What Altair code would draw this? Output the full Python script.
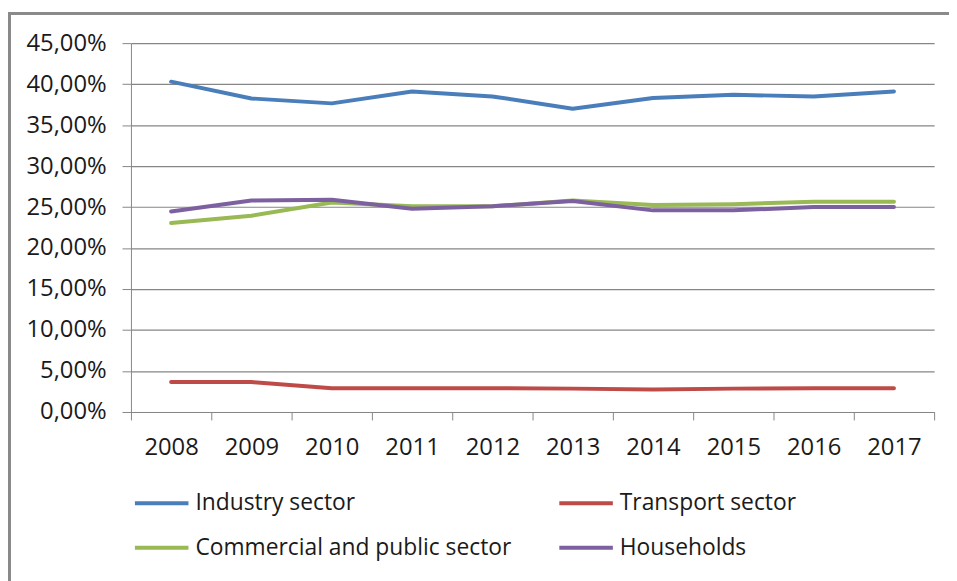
import altair as alt
import pandas as pd

years = [2008, 2009, 2010, 2011, 2012, 2013, 2014, 2015, 2016, 2017]
series_names = ["Industry sector", "Transport sector", "Commercial and public sector", "Households"]
industry = [0.403, 0.3825, 0.3765, 0.391, 0.385, 0.370, 0.383, 0.387, 0.385, 0.391]
transport = [0.0365, 0.0365, 0.029, 0.029, 0.029, 0.0285, 0.0275, 0.0285, 0.029, 0.029]
commercial = [0.2305, 0.2395, 0.2555, 0.251, 0.251, 0.258, 0.2525, 0.2535, 0.2565, 0.2565]
households = [0.2445, 0.258, 0.259, 0.248, 0.251, 0.2575, 0.246, 0.246, 0.250, 0.250]
colors = ["#4A7EBB", "#BE4B48", "#98B954", "#7D60A0"]
y_ticks = [0.0, 0.05, 0.10, 0.15, 0.20, 0.25, 0.30, 0.35, 0.40, 0.45]
x_ticks = [2007.5, 2008.5, 2009.5, 2010.5, 2011.5, 2012.5, 2013.5, 2014.5, 2015.5, 2016.5, 2017.5]

rows = []
for name, vals in zip(series_names, [industry, transport, commercial, households]):
    for yr, v in zip(years, vals):
        rows.append({"year": yr, "series": name, "value": v})
df = pd.DataFrame(rows)

FONT = "Open Sans"
GRID = "#868686"

lines = alt.Chart(df).mark_line(strokeWidth=4, strokeCap="round", strokeJoin="round").encode(
    x=alt.X("year:Q",
            scale=alt.Scale(domain=[2007.5, 2017.5], nice=False, zero=False),
            axis=alt.Axis(values=x_ticks, title=None, grid=False,
                          labelExpr="datum.value > 2017 ? '' : toString(datum.value + 0.5)",
                          labelOffset=40.5, labelPadding=16, tickSize=8,
                          tickColor=GRID, domainColor=GRID, labelFontSize=24,
                          labelFont=FONT, labelColor="#1a1a1a", labelFlush=False,
                          labelOverlap=False)),
    y=alt.Y("value:Q",
            scale=alt.Scale(domain=[0, 0.45], nice=False),
            axis=alt.Axis(values=y_ticks, title=None, grid=True, gridColor=GRID,
                          gridWidth=1.2,
                          labelExpr="replace(format(datum.value, '.2%'), '.', ',')",
                          tickSize=9, tickColor=GRID, domainColor=GRID,
                          labelPadding=16, labelFontSize=24, labelFont=FONT,
                          labelColor="#1a1a1a")),
    color=alt.Color("series:N",
                    scale=alt.Scale(domain=series_names, range=colors),
                    legend=alt.Legend(title=None, orient="none", legendX=2, legendY=435,
                                      columns=2, columnPadding=40, rowPadding=4,
                                      symbolType="stroke", symbolSize=2916,
                                      symbolStrokeWidth=4, labelFontSize=23,
                                      labelFont=FONT, labelColor="#1a1a1a",
                                      labelOffset=5, labelLimit=400,
                                      direction="horizontal")),
    order=alt.Order("year:Q"),
)

border = alt.Chart(df).mark_rect(filled=False, stroke="#8a8a8a", strokeWidth=2).encode(
    x=alt.value(-122.5), x2=alt.value(850), y=alt.value(-30), y2=alt.value(580)
)

chart = alt.layer(border, lines).properties(
    width=810, height=372,
    autosize=alt.AutoSizeParams(type="none"),
    padding={"left": 124, "top": 33, "right": 15, "bottom": 168},
    background="white",
).configure_view(stroke=None)

chart.save("out.html", embed_options={"renderer": "svg", "actions": False})
